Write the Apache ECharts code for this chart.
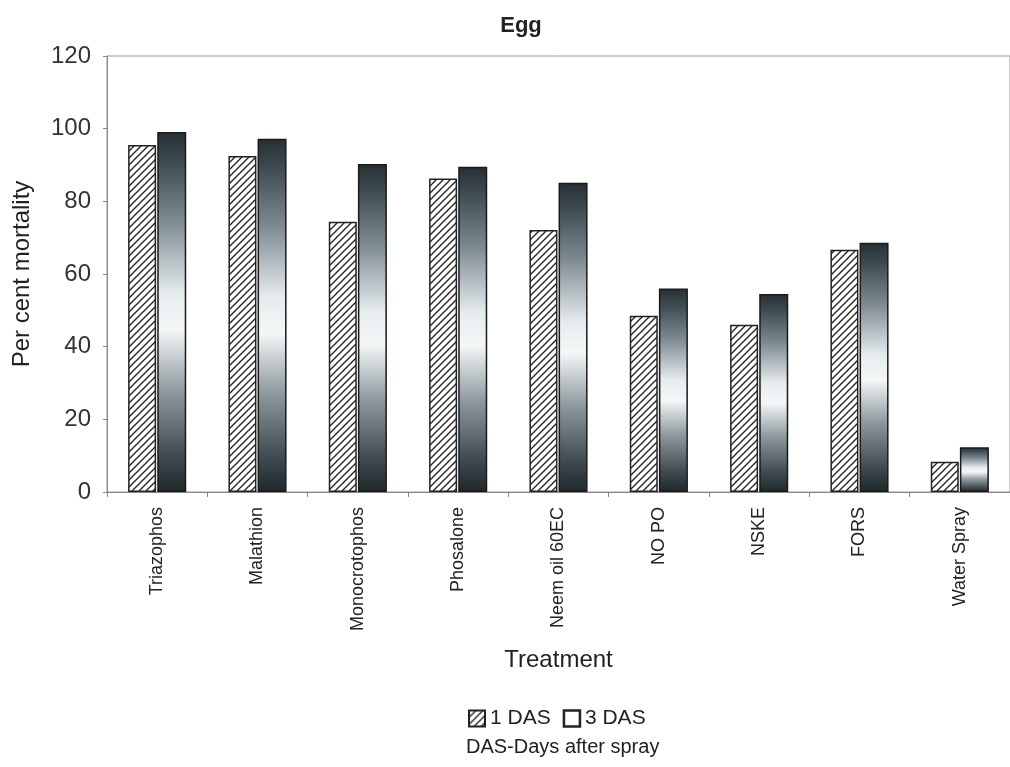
<!DOCTYPE html>
<html><head><meta charset="utf-8">
<script src="https://cdn.jsdelivr.net/npm/echarts@6/dist/echarts.min.js"></script>
<style>html,body{margin:0;padding:0;background:#fff}#c{width:1010px;height:767px}</style>
</head><body><div id="c"></div>
<script>
const categories = ['Triazophos','Malathion','Monocrotophos','Phosalone','Neem oil 60EC','NO PO','NSKE','FORS','Water Spray'];
const das1 = [95.5, 92.5, 74.4, 86.3, 72.1, 48.5, 46.0, 66.7, 8.3];
const das3 = [99.1, 97.2, 90.3, 89.5, 85.1, 56.0, 54.5, 68.6, 12.3];
const yTicks = [0, 20, 40, 60, 80, 100, 120];

const pc = document.createElement('canvas');
pc.width = 7; pc.height = 7;
const g = pc.getContext('2d');
g.fillStyle = '#fff'; g.fillRect(0,0,7,7);
g.strokeStyle = '#222'; g.lineWidth = 1.3;
g.beginPath(); g.moveTo(-1,8); g.lineTo(8,-1); g.stroke();
g.beginPath(); g.moveTo(-1,1); g.lineTo(1,-1); g.stroke();
g.beginPath(); g.moveTo(6,8); g.lineTo(8,6); g.stroke();

const darkGrad = new echarts.graphic.LinearGradient(0,0,0,1,[
  {offset:0, color:'#273034'},
  {offset:0.08, color:'#3d4a50'},
  {offset:0.25, color:'#7f8b93'},
  {offset:0.45, color:'#e6ecee'},
  {offset:0.55, color:'#f4f7f8'},
  {offset:0.72, color:'#8e999e'},
  {offset:0.9, color:'#3f4b50'},
  {offset:1, color:'#1f282b'}
]);

const FF = 'Liberation Sans, Arial';
const chart = echarts.init(document.getElementById('c'));
chart.setOption({
  backgroundColor:'#fff',
  animation:false,
  title:{text:'Egg', left:516, top:10, textAlign:'center',
    textStyle:{fontFamily:FF, fontSize:22, fontWeight:'bold', color:'#222'}},
  grid:{left:107, top:56, width:906, height:436, show:true, borderColor:'#9a9a9a', borderWidth:1},
  legend:{top:703, left:463, itemWidth:16, itemHeight:16, itemGap:12,
    textStyle:{fontFamily:FF, fontSize:21, color:'#222', padding:[0,0,0,0]},
    data:[{name:'1 DAS', icon:'rect'},{name:'3 DAS', icon:'rect', itemStyle:{color:'#fff', borderColor:'#222', borderWidth:2.5}}]},
  graphic:[{type:'text', left:466, top:737, style:{text:'DAS-Days after spray', fontFamily:FF, fontSize:20, fill:'#222'}}],
  xAxis:{type:'category', data:categories, name:'Treatment', nameLocation:'middle', nameGap:156,
    nameTextStyle:{fontFamily:FF, fontSize:24, color:'#222'},
    axisLine:{lineStyle:{color:'#888'}}, axisTick:{show:true, lineStyle:{color:'#888'}},
    axisLabel:{rotate:90, fontFamily:FF, fontSize:18, color:'#222', margin:15}},
  yAxis:{type:'value', min:0, max:120, interval:20, name:'Per cent mortality', nameLocation:'middle', nameGap:73,
    nameTextStyle:{fontFamily:FF, fontSize:24, color:'#222'},
    axisLine:{show:true, lineStyle:{color:'#888'}}, axisTick:{show:true, length:4, lineStyle:{color:'#888'}},
    splitLine:{show:false},
    axisLabel:{fontFamily:FF, fontSize:24, color:'#333', margin:16,
      formatter:v => yTicks.includes(v) ? String(v) : ''}},
  series:[
    {name:'1 DAS', type:'bar', data:das1, barWidth:28, barGap:'4%',
      itemStyle:{color:{image:pc, repeat:'repeat'}, borderColor:'#222', borderWidth:1.5}},
    {name:'3 DAS', type:'bar', data:das3, barWidth:29,
      itemStyle:{color:darkGrad, borderColor:'#1a1a1a', borderWidth:1.5}}
  ]
});
</script></body></html>
